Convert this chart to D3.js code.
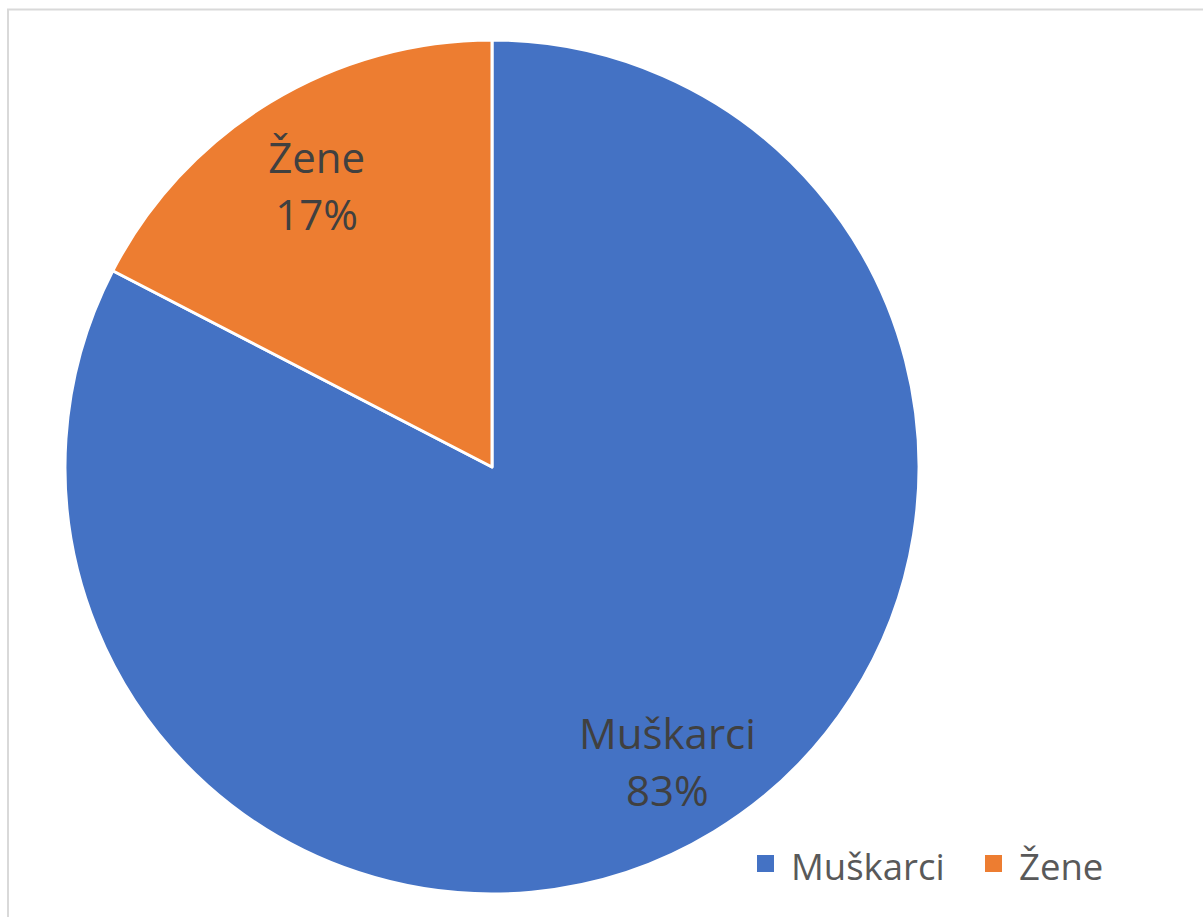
<!DOCTYPE html>
<html>
<head>
<meta charset="utf-8">
<script src="https://cdn.jsdelivr.net/npm/d3@7"></script>
<style>
  body { margin: 0; background: #fff; }
  svg { display: block; font-family: "Open Sans", sans-serif; }
</style>
</head>
<body>
<script>
// data
var categories = ["Muškarci", "Žene"];
var values = [82.6, 17.4];
var colors = ["#4472C4", "#ED7D31"];

var width = 1203, height = 917;
var cx = 492, cy = 467, radius = 427;

var svg = d3.select("body").append("svg")
    .attr("width", width)
    .attr("height", height);

// chart area border
svg.append("rect")
    .attr("x", 8).attr("y", 9.5)
    .attr("width", 1220).attr("height", 940)
    .attr("fill", "#fff")
    .attr("stroke", "#d9d9d9")
    .attr("stroke-width", 2);

var data = categories.map(function (c, i) { return { name: c, value: values[i] }; });

// Muškarci starts at 12 o'clock going clockwise, Žene fills the rest
var pie = d3.pie().sort(null).value(function (d) { return d.value; });
var arc = d3.arc().innerRadius(0).outerRadius(radius);
var labelArc = d3.arc().innerRadius(radius * 0.79).outerRadius(radius * 0.79);

var g = svg.append("g").attr("transform", "translate(" + cx + "," + cy + ")");

var arcs = pie(data);

g.selectAll("path.slice")
    .data(arcs)
    .enter().append("path")
    .attr("class", "slice")
    .attr("d", arc)
    .attr("fill", function (d, i) { return colors[i]; })
    .attr("stroke", "#fff")
    .attr("stroke-width", 3)
    .attr("stroke-linejoin", "round");

var total = d3.sum(values);
var lbl = g.selectAll("text.label")
    .data(arcs)
    .enter().append("text")
    .attr("class", "label")
    .attr("transform", function (d) { return "translate(" + labelArc.centroid(d) + ")"; })
    .attr("text-anchor", "middle")
    .attr("fill", "#404040")
    .style("font-size", "42px");

lbl.append("tspan")
    .attr("x", 0).attr("dy", "-0.15em")
    .text(function (d) { return d.data.name; });
lbl.append("tspan")
    .attr("x", 0).attr("dy", "1.36em")
    .text(function (d) { return Math.round(d.data.value / total * 100) + "%"; });

// legend
var legendX = [757, 985];
var legend = svg.selectAll("g.legend")
    .data(data)
    .enter().append("g")
    .attr("class", "legend")
    .attr("transform", function (d, i) { return "translate(" + legendX[i] + ",855)"; });

legend.append("rect")
    .attr("width", 17).attr("height", 17)
    .attr("fill", function (d, i) { return colors[i]; });

legend.append("text")
    .attr("x", 34).attr("y", 25)
    .attr("fill", "#595959")
    .style("font-size", "36.5px")
    .text(function (d) { return d.name; });
</script>
</body>
</html>
